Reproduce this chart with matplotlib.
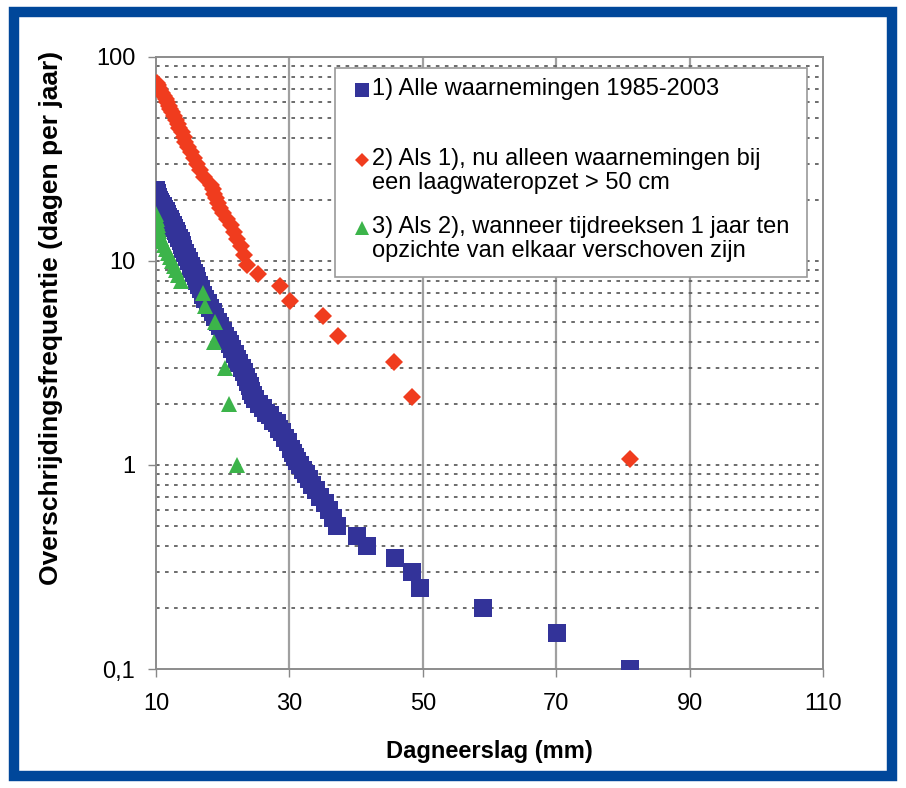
import matplotlib
matplotlib.use("Agg")
import matplotlib.pyplot as plt
from matplotlib.patches import Rectangle
from matplotlib.lines import Line2D

plt.rcParams['font.family'] = ['Liberation Sans', 'DejaVu Sans']

# serie 1: alle waarnemingen 1985-2003 (frequentie, neerslag)
blauw_y = [22.4, 21.9, 21.5, 21.0, 20.5, 20.0, 19.5, 19.0, 18.5, 18.0, 17.5, 17.0,
           16.5, 16.0, 15.5, 15.0, 14.5, 14.0, 13.5, 13.0, 12.5, 12.0, 11.5, 11.0,
           10.5, 10.0, 9.5, 9.1, 8.75, 8.4, 8.0, 7.6, 7.25, 6.85, 6.5, 6.2, 5.9,
           5.6, 5.3, 5.05, 4.8, 4.55, 4.3, 4.1, 3.9, 3.7, 3.5, 3.3, 3.15, 3.0,
           2.85, 2.7, 2.55, 2.45, 2.3, 2.2, 2.1, 2.0, 1.9, 1.8, 1.75, 1.65, 1.6,
           1.5, 1.45, 1.35, 1.3, 1.2, 1.15, 1.1, 1.05, 1.0, 0.95, 0.9, 0.85, 0.8,
           0.75, 0.7, 0.65, 0.6, 0.55, 0.5, 0.45, 0.4, 0.35, 0.3, 0.25, 0.2,
           0.15, 0.1]
blauw_x = [10.0, 10.05, 10.1, 10.2, 10.3, 10.45, 10.6, 10.8, 11.0, 11.25, 11.5, 11.65,
           11.8, 12.05, 12.3, 12.5, 12.7, 12.95, 13.2, 13.45, 13.7, 13.9, 14.1, 14.35,
           14.6, 14.9, 15.2, 15.45, 15.7, 15.95, 16.2, 16.45, 16.7, 17.05, 17.4, 17.75, 18.1,
           18.5, 18.9, 19.25, 19.6, 20.0, 20.4, 20.75, 21.1, 21.45, 21.8, 22.15, 22.5, 22.85,
           23.2, 23.5, 23.8, 24.05, 24.3, 24.55, 24.8, 25.4, 26.0, 26.55, 27.1, 27.6, 28.1,
           28.5, 28.9, 29.35, 29.8, 30.2, 30.6, 30.9, 31.2, 31.6, 32.0, 32.45, 32.9, 33.45,
           34.0, 34.65, 35.3, 35.9, 36.6, 37.2, 40.1, 41.7, 45.8, 48.4, 49.6, 59.0,
           70.1, 81.1]

# serie 2: alleen bij laagwateropzet > 50 cm
rood_y = [74.9, 72.8, 70.6, 68.5, 66.3, 64.2, 62.1, 59.9, 57.8, 55.6, 53.5, 51.4,
          49.2, 47.1, 44.9, 42.8, 40.7, 38.5, 36.4, 34.2, 32.1, 30.0, 27.8, 25.7,
          23.5, 22.5, 21.4, 20.3, 19.3, 18.2, 17.1, 16.1, 15.0, 13.9, 12.8, 11.8,
          10.7, 9.6, 8.6, 7.5, 6.4, 5.35, 4.3, 3.2, 2.15, 1.07]
rood_x = [10.2, 10.35, 10.5, 10.65, 10.9, 11.2, 11.45, 11.6, 11.9, 12.1, 12.4, 12.7,
          13.0, 13.25, 13.5, 13.9, 14.15, 14.4, 14.8, 15.2, 15.7, 16.1, 16.6, 17.2,
          18.2, 18.5, 18.7, 19.0, 19.3, 19.6, 20.0, 20.6, 21.2, 21.7, 22.2, 22.7,
          23.2, 23.6, 25.3, 28.6, 30.1, 35.0, 37.3, 45.7, 48.4, 81.0]

# serie 3: tijdreeksen 1 jaar verschoven
groen_y = [17, 16.5, 16, 15.5, 15, 14.5, 14, 13.5, 13, 12.5, 12, 11.5, 11, 10.5,
           10, 9.5, 9, 8.5, 8, 7, 6, 5, 4, 3, 2, 1]
groen_x = [10.0, 10.05, 10.15, 10.2, 10.3, 10.3, 10.4, 10.5, 10.7, 10.9, 11.2, 11.5,
           11.8, 12.1, 12.4, 12.7, 13.0, 13.3, 13.7, 17.0, 17.3, 18.8, 18.7, 20.3,
           20.9, 22.1]

labels = ["1) Alle waarnemingen 1985-2003",
          "2) Als 1), nu alleen waarnemingen bij\neen laagwateropzet > 50 cm",
          "3) Als 2), wanneer tijdreeksen 1 jaar ten\nopzichte van elkaar verschoven zijn"]

c_blauw = '#333399'
c_rood = '#f03c1e'
c_groen = '#3cb44a'

fig = plt.figure(figsize=(9.06, 7.88), dpi=100)
ax = fig.add_axes([0.1722, 0.151, 0.7362, 0.7767])

ax.plot(blauw_x, blauw_y, 's', color=c_blauw, ms=12.5, mew=0, zorder=3)
ax.plot(rood_x, rood_y, 'D', color=c_rood, ms=9.5, mew=0, zorder=4)
ax.plot(groen_x, groen_y, '^', color=c_groen, ms=12, mew=0, zorder=5)

ax.set_yscale('log')
ax.set_xlim(10, 110)
ax.set_ylim(0.1, 100)
ax.set_xticks([10, 30, 50, 70, 90, 110])
ax.set_yticks([0.1, 1, 10, 100])
ax.set_yticklabels(['0,1', '1', '10', '100'])
ax.minorticks_off()
ax.tick_params(axis='both', labelsize=17, length=6, width=1, color='#888888')
ax.tick_params(axis='x', pad=11)
ax.tick_params(axis='y', pad=9)

# rasterlijnen
ax.grid(False)
for v in [30, 50, 70, 90]:
    ax.axvline(v, color='#a0a0a0', lw=1.6, zorder=1)
for dec in [0.1, 1, 10]:
    for m in range(1, 10):
        val = dec * m
        if dec * m <= 0.1:
            continue
        ax.axhline(val, color='#606060', lw=1.3, ls=(0, (2, 3)), zorder=1)
for s in ax.spines.values():
    s.set_color('#8c8c8c')
    s.set_linewidth(1.4)

ax.set_xlabel("Dagneerslag (mm)", fontsize=17, fontweight='bold', labelpad=18)
ax.set_ylabel("Overschrijdingsfrequentie (dagen per jaar)", fontsize=19,
              fontweight='bold')
ax.yaxis.set_label_coords(-0.14, 0.573)

# legenda met de hand
ax.add_patch(Rectangle((0.268, 0.6405), 0.708, 0.3415, transform=ax.transAxes,
                       facecolor='white', edgecolor='#999999', lw=1.2, zorder=6))
legend_rows = [(0.946, c_blauw, 's', 10), (0.8317, c_rood, 'D', 7),
               (0.7206, c_groen, '^', 9.5)]
for (yy, col, mk, ms), lab in zip(legend_rows, labels):
    ax.add_line(Line2D([0.309], [yy], marker=mk, color=col, ms=ms, mew=0,
                       transform=ax.transAxes, zorder=7))
    ax.text(0.324, yy + 0.02, lab, transform=ax.transAxes, fontsize=17, va='top',
            ha='left', linespacing=1.15, zorder=7)

# blauwe rand om de figuur
fig.patches.append(Rectangle((0.0155, 0.0155), 0.969, 0.969, transform=fig.transFigure,
                             fill=False, edgecolor='#00479a', lw=7.5))

fig.savefig("out.png", dpi=100)
